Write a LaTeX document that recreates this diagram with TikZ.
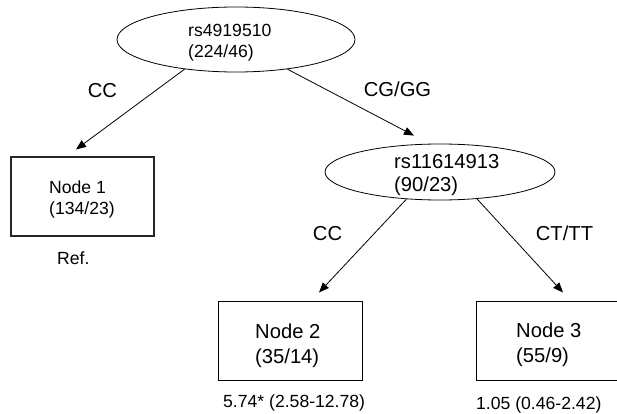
\documentclass[tikz,border=0pt]{standalone}
\usepackage{fontspec}
\setmainfont{Liberation Sans}
\usetikzlibrary{arrows.meta,shapes.geometric,calc}
\begin{document}
\begin{tikzpicture}[x=1pt,y=-1pt,
  split/.style={draw, ellipse, line width=0.8pt, inner sep=0pt},
  leaf/.style={draw, rectangle, line width=1pt, inner sep=0pt,
               minimum width=144pt, minimum height=79pt},
  small/.style={inner sep=0pt, anchor=base west, font=\fontsize{17.6}{21}\selectfont},
  large/.style={inner sep=0pt, anchor=base west, font=\fontsize{20.2}{24}\selectfont},
  edgelabel/.style={inner sep=0pt, anchor=base, font=\fontsize{20.2}{24}\selectfont},
  branch/.style={draw, line width=0.8pt, -{Triangle[length=10pt,width=8pt]}}]
\useasboundingbox (0,0) rectangle (617,414);

% split nodes
\node[split, minimum width=238pt, minimum height=65pt] (root) at (236,39.5) {};
\node[small] (rootA) at (188,36.7) {rs4919510};
\node[small] (rootB) at (188,58) {(224/46)};

\node[split, minimum width=230pt, minimum height=56pt] (sub) at (440,172) {};
\node[large] (subA) at (394,168) {rs11614913};
\node[large] (subB) at (394,191) {(90/23)};

% terminal nodes
\node[leaf, line width=1.1pt, draw=black!85, minimum width=143pt] (n1) at (82.5,196.5) {};
\node[small] (n1A) at (49,193) {Node 1};
\node[small] (n1B) at (49,214.5) {(134/23)};
\node[small] (n1C) at (57,264) {Ref.};

\node[leaf] (n2) at (290,340.5) {};
\node[large] (n2A) at (255,338) {Node 2};
\node[large] (n2B) at (255,363.5) {(35/14)};
\node[small] (n2C) at (223,407.5) {5.74* (2.58-12.78)};

\node[leaf] (n3) at (548,340.5) {};
\node[large] (n3A) at (516,337) {Node 3};
\node[large] (n3B) at (516,362) {(55/9)};
\node[small] (n3C) at (476,409.5) {1.05 (0.46-2.42)};

% branches
\draw[branch] (root.210) -- ($(n1.north)+(-6.5,-7)$);
\draw[branch] (root.330) -- ($(sub.north)+(-26,-8)$);
\draw[branch] (sub.219) -- ($(n2.north)+(29,-8)$);
\draw[branch] (sub.324) -- ($(n3.north)+(15,-8)$);

% branch labels
\node[edgelabel] (l1) at (102.5,98) {CC};
\node[edgelabel] (l2) at (397.5,97) {CG/GG};
\node[edgelabel] (l3) at (327.5,240) {CC};
\node[edgelabel] (l4) at (564.5,240.5) {CT/TT};
\end{tikzpicture}
\end{document}
